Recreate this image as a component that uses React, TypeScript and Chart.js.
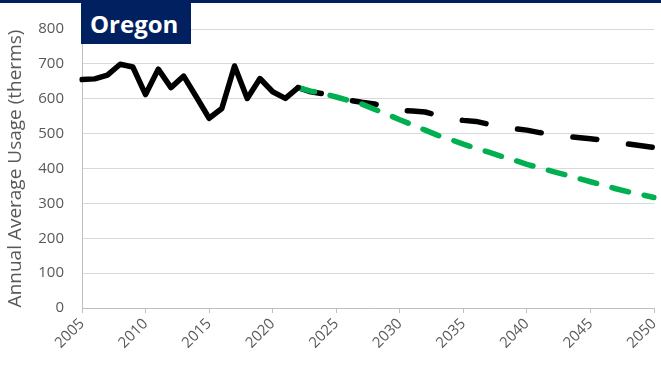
import React, { useEffect, useRef } from 'react';
import { Chart, registerables } from 'chart.js';

Chart.register(...registerables);

const years: string[] = [
  '2005', '2006', '2007', '2008', '2009', '2010', '2011', '2012', '2013', '2014',
  '2015', '2016', '2017', '2018', '2019', '2020', '2021', '2022', '2023', '2024',
  '2025', '2026', '2027', '2028', '2029', '2030', '2031', '2032', '2033', '2034',
  '2035', '2036', '2037', '2038', '2039', '2040', '2041', '2042', '2043', '2044',
  '2045', '2046', '2047', '2048', '2049', '2050',
];

// 2005 - 2022
const historical: number[] = [
  655, 657, 668, 699, 691, 612, 685, 632, 665, 605,
  544, 572, 694, 601, 658, 620, 601, 632,
];

// 2022 - 2050
const forecastBase: number[] = [
  632, 620, 614, 606, 596, 590, 585, 575, 566, 565,
  562, 552, 542, 538, 535, 527, 520, 514, 510, 503,
  497, 493, 489, 485, 481, 475, 470, 465, 460,
];

// 2022 - 2050
const forecastGreen: number[] = [
  632, 622, 615, 605, 595, 585, 570, 555, 540, 525,
  510, 495, 483, 470, 458, 447, 435, 424, 412, 402,
  392, 382, 372, 362, 352, 342, 333, 325, 317,
];

const yTicks: number[] = [0, 100, 200, 300, 400, 500, 600, 700, 800];

const TITLE = 'Oregon';
const Y_TITLE = 'Annual Average Usage (therms)';

const NAVY = '#002060';
const GREEN = '#00B050';
const FONT = "'Open Sans', 'Liberation Sans', sans-serif";

export default function App() {
  const canvasRef = useRef<HTMLCanvasElement | null>(null);

  useEffect(() => {
    const canvas = canvasRef.current;
    if (!canvas) return;
    const histData: (number | null)[] = years.map((_, i) => (i < historical.length ? historical[i] : null));
    const startIdx = historical.length - 1;
    const baseData: (number | null)[] = years.map((_, i) => (i >= startIdx ? forecastBase[i - startIdx] : null));
    const greenData: (number | null)[] = years.map((_, i) => (i >= startIdx ? forecastGreen[i - startIdx] : null));

    const chart = new Chart(canvas, {
      type: 'line',
      data: {
        labels: years,
        datasets: [
          {
            label: 'Historical',
            data: histData,
            borderColor: '#000000',
            borderWidth: 5.5,
            pointRadius: 0,
            tension: 0,
            borderJoinStyle: 'round',
            borderCapStyle: 'round',
            spanGaps: false,
            order: 0,
          },
          {
            label: 'Forecast (green)',
            data: greenData,
            borderColor: GREEN,
            borderWidth: 5.5,
            pointRadius: 0,
            tension: 0,
            borderDash: [17, 16],
            borderCapStyle: 'round',
            borderJoinStyle: 'round',
            order: 1,
          },
          {
            label: 'Forecast',
            data: baseData,
            borderColor: '#000000',
            borderWidth: 5.5,
            pointRadius: 0,
            tension: 0,
            borderDash: [24, 32],
            borderCapStyle: 'round',
            borderJoinStyle: 'round',
            order: 2,
          },
        ],
      },
      options: {
        animation: false,
        responsive: false,
        maintainAspectRatio: false,
        layout: { padding: { top: 29, right: 7, left: 0, bottom: 0 } },
        plugins: {
          legend: { display: false },
          tooltip: { enabled: false },
          title: { display: false },
        },
        scales: {
          x: {
            type: 'category',
            offset: false,
            grid: {
              drawOnChartArea: false,
              drawTicks: true,
              tickLength: 5,
              color: (ctx: any) => {
                const lbl = years[ctx.index];
                return lbl && Number(lbl) % 5 === 0 ? '#BFBFBF' : 'rgba(0,0,0,0)';
              },
            },
            border: { display: true, color: '#BFBFBF', width: 1 },
            ticks: {
              autoSkip: false,
              maxRotation: 45,
              minRotation: 45,
              padding: 2,
              color: '#595959',
              font: { family: FONT, size: 15 },
              callback: (_v: any, i: number) => (Number(years[i]) % 5 === 0 ? years[i] : ''),
            },
            afterFit: (scale: any) => {
              scale.height = 59;
              scale.paddingLeft = 0;
              scale.paddingRight = 0;
            },
          },
          y: {
            min: 0,
            max: 800,
            afterBuildTicks: (scale: any) => {
              scale.ticks = yTicks.map((v) => ({ value: v }));
            },
            grid: {
              color: '#D9D9D9',
              lineWidth: 1,
              drawTicks: false,
            },
            border: { display: true, color: '#BFBFBF', width: 1 },
            ticks: {
              padding: 18,
              color: '#595959',
              font: { family: FONT, size: 15 },
            },
            title: {
              display: true,
              text: Y_TITLE,
              color: '#595959',
              font: { family: FONT, size: 19 },
              padding: { top: 4, bottom: 0 },
            },
            afterFit: (scale: any) => {
              scale.width = 82;
            },
          },
        },
      },
    });
    return () => {
      chart.destroy();
    };
  }, []);

  return (
    <div style={{ position: 'absolute', left: 0, top: 0, width: 661, height: 367, background: '#ffffff' }}>
      <canvas ref={canvasRef} width={661} height={367} style={{ position: 'absolute', left: 0, top: 0, width: 661, height: 367 }} />
      <div style={{ position: 'absolute', left: 0, top: 0, width: 661, height: 3, background: NAVY }} />
      <div
        style={{
          position: 'absolute',
          left: 81,
          top: 3,
          width: 110,
          height: 41,
          background: NAVY,
          color: '#ffffff',
          fontFamily: FONT,
          fontWeight: 700,
          fontSize: 24,
          lineHeight: '41px',
          paddingLeft: 9,
          boxSizing: 'border-box',
          whiteSpace: 'nowrap',
        }}
      >
        {TITLE}
      </div>
    </div>
  );
}
